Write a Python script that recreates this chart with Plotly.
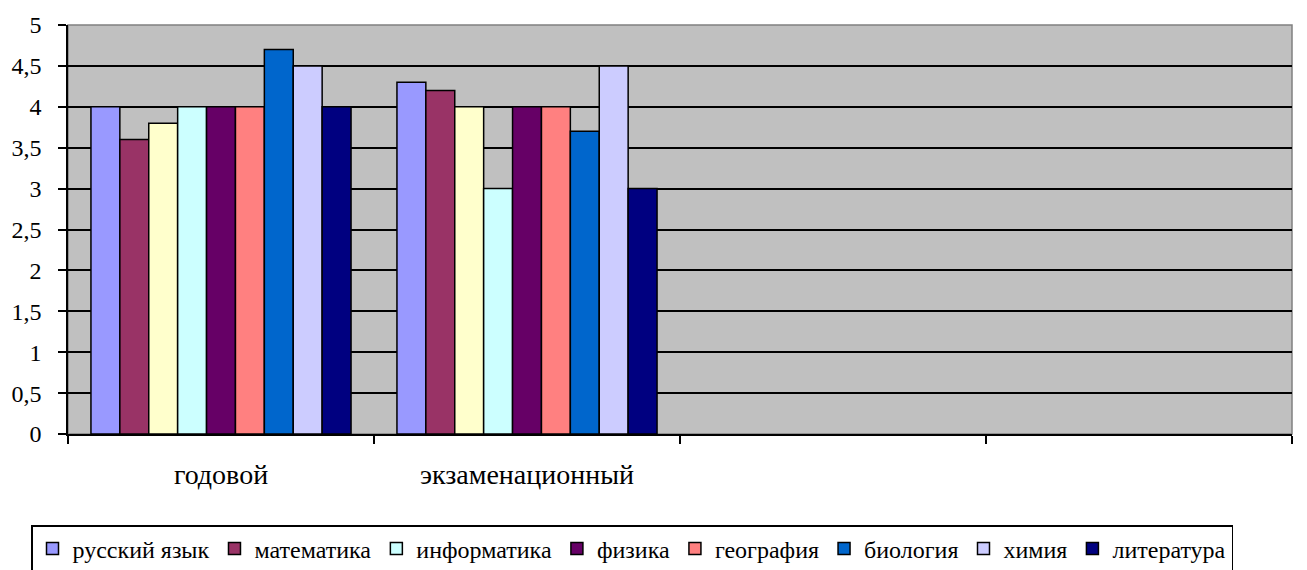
import plotly.graph_objects as go

categories = ["годовой", "экзаменационный", " ", "  "]
series_names = ["русский язык", "математика", "", "информатика", "физика",
                "география", "биология", "химия", "литература"]
show_in_legend = [True, True, False, True, True, True, True, True, True]
series_values = [
    [4.0, 4.3],
    [3.6, 4.2],
    [3.8, 4.0],
    [4.0, 3.0],
    [4.0, 4.0],
    [4.0, 4.0],
    [4.7, 3.7],
    [4.5, 4.5],
    [4.0, 3.0],
]
colors = ["#9999FF", "#993366", "#FFFFCC", "#CCFFFF", "#660066",
          "#FF8080", "#0066CC", "#CCCCFF", "#000080"]
y_tickvals = [0, 0.5, 1, 1.5, 2, 2.5, 3, 3.5, 4, 4.5, 5]

fig = go.Figure()
for name, vals, col, sl in zip(series_names, series_values, colors, show_in_legend):
    fig.add_trace(go.Bar(
        x=categories[:len(vals)], y=vals, name=name, showlegend=sl,
        marker=dict(color=col, line=dict(color="black", width=1.5)),
    ))

font = "Liberation Serif, Times New Roman, serif"
fig.update_layout(
    width=1307, height=570,
    margin=dict(l=68, r=15, t=25, b=136),
    paper_bgcolor="white", plot_bgcolor="#C0C0C0",
    barmode="group", bargap=0.15, bargroupgap=0,
    separators=", ",
    font=dict(family=font, size=24, color="black"),
    legend=dict(
        orientation="h", x=31 / 1307, xref="container", xanchor="left",
        y=(570 - 525) / 570, yref="container", yanchor="top",
        bordercolor="black", borderwidth=1.5,
        font=dict(family=font, size=24, color="black"),
        itemwidth=30, tracegroupgap=0,
        traceorder="normal",
    ),
    xaxis=dict(
        type="category", categoryorder="array", categoryarray=categories,
        range=[-0.5, 3.5], tickson="boundaries", ticks="outside", ticklen=8,
        tickcolor="black", tickwidth=1.5, automargin=False,
        showline=True, linecolor="black", linewidth=1.5,
        showgrid=False, ticklabelstandoff=15,
        tickfont=dict(family=font, size=28),
    ),
    yaxis=dict(
        range=[0, 5], tickvals=y_tickvals, ticks="outside", ticklen=8,
        tickcolor="black", tickwidth=1.5, automargin=False,
        showline=True, linecolor="black", linewidth=1.5,
        showgrid=True, gridcolor="black", gridwidth=1.5,
        zeroline=False, ticklabelstandoff=12,
        tickfont=dict(family=font, size=24),
    ),
)
fig.add_shape(type="rect", xref="paper", yref="paper", x0=0, y0=0, x1=1, y1=1,
              line=dict(color="#808080", width=1.5), layer="below")
fig.write_html("out.html", config={"displayModeBar": False},
               post_script="document.body.style.margin='0';document.body.style.overflow='hidden';")
